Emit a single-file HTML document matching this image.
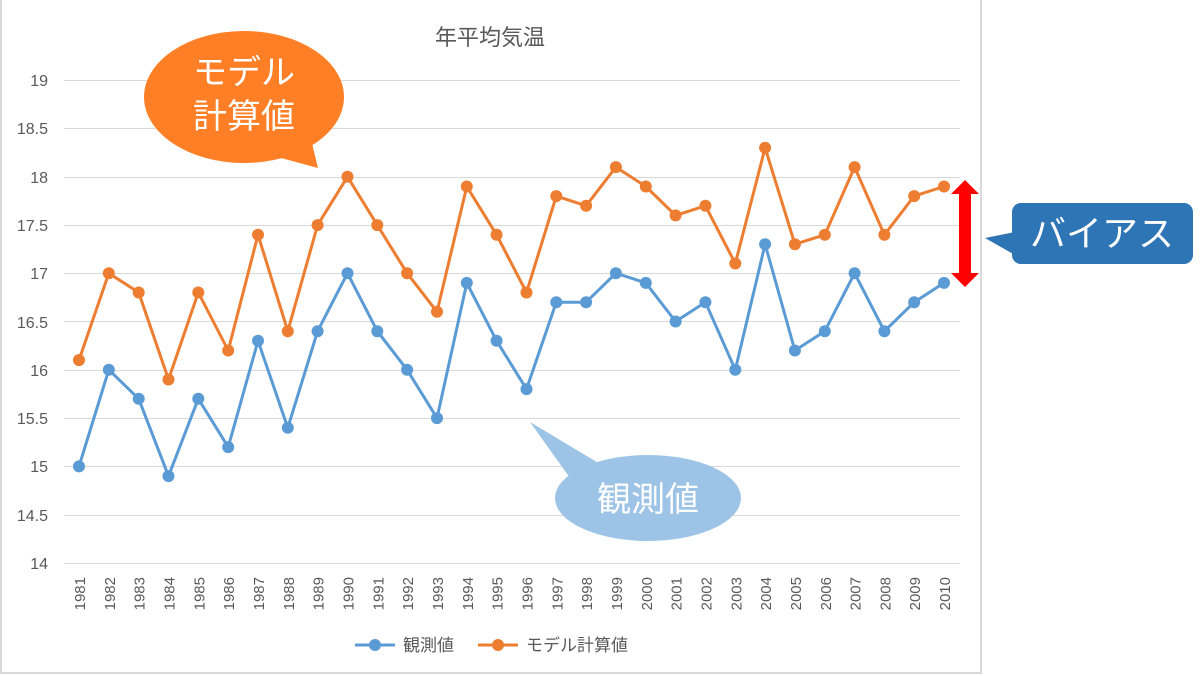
<!DOCTYPE html>
<html><head><meta charset="utf-8"><style>
body{margin:0;background:#fff;}
svg{display:block;font-family:"Liberation Sans","Noto Sans CJK JP",sans-serif;}
</style></head><body>
<svg width="1200" height="676" viewBox="0 0 1200 676">
<defs>
<marker id="mb" markerWidth="14" markerHeight="14" refX="7" refY="7" markerUnits="userSpaceOnUse"><circle cx="7" cy="7" r="6" fill="#5b9bd5"/></marker>
<marker id="mo" markerWidth="14" markerHeight="14" refX="7" refY="7" markerUnits="userSpaceOnUse"><circle cx="7" cy="7" r="6" fill="#ed7d31"/></marker>
</defs>
<rect x="1" y="-2" width="980" height="675" fill="#fff" stroke="#d9d9d9" stroke-width="2"/>
<g stroke="#d9d9d9" stroke-width="1">
<line x1="64" x2="960" y1="80.5" y2="80.5"/><line x1="64" x2="960" y1="128.5" y2="128.5"/>
<line x1="64" x2="960" y1="177.5" y2="177.5"/><line x1="64" x2="960" y1="225.5" y2="225.5"/>
<line x1="64" x2="960" y1="273.5" y2="273.5"/><line x1="64" x2="960" y1="321.5" y2="321.5"/>
<line x1="64" x2="960" y1="370.5" y2="370.5"/><line x1="64" x2="960" y1="418.5" y2="418.5"/>
<line x1="64" x2="960" y1="466.5" y2="466.5"/><line x1="64" x2="960" y1="515.5" y2="515.5"/>
<line x1="64" x2="960" y1="563.5" y2="563.5"/>
</g>
<g fill="#595959" font-size="16" text-anchor="end">
<text x="48" y="86">19</text><text x="48" y="134">18.5</text><text x="48" y="183">18</text>
<text x="48" y="231">17.5</text><text x="48" y="279">17</text><text x="48" y="328">16.5</text>
<text x="48" y="376">16</text><text x="48" y="424">15.5</text><text x="48" y="472">15</text>
<text x="48" y="521">14.5</text><text x="48" y="569">14</text>
</g>
<text x="490" y="45" font-size="22" fill="#595959" text-anchor="middle">年平均気温</text>
<g fill="#595959" font-size="15" text-anchor="end">
<text transform="translate(85,577) rotate(-90)">1981</text>
<text transform="translate(114.8,577) rotate(-90)">1982</text>
<text transform="translate(144.7,577) rotate(-90)">1983</text>
<text transform="translate(174.5,577) rotate(-90)">1984</text>
<text transform="translate(204.3,577) rotate(-90)">1985</text>
<text transform="translate(234.2,577) rotate(-90)">1986</text>
<text transform="translate(264,577) rotate(-90)">1987</text>
<text transform="translate(293.8,577) rotate(-90)">1988</text>
<text transform="translate(323.6,577) rotate(-90)">1989</text>
<text transform="translate(353.5,577) rotate(-90)">1990</text>
<text transform="translate(383.3,577) rotate(-90)">1991</text>
<text transform="translate(413.1,577) rotate(-90)">1992</text>
<text transform="translate(443,577) rotate(-90)">1993</text>
<text transform="translate(472.8,577) rotate(-90)">1994</text>
<text transform="translate(502.6,577) rotate(-90)">1995</text>
<text transform="translate(532.5,577) rotate(-90)">1996</text>
<text transform="translate(562.3,577) rotate(-90)">1997</text>
<text transform="translate(592.1,577) rotate(-90)">1998</text>
<text transform="translate(621.9,577) rotate(-90)">1999</text>
<text transform="translate(651.8,577) rotate(-90)">2000</text>
<text transform="translate(681.6,577) rotate(-90)">2001</text>
<text transform="translate(711.4,577) rotate(-90)">2002</text>
<text transform="translate(741.3,577) rotate(-90)">2003</text>
<text transform="translate(771.1,577) rotate(-90)">2004</text>
<text transform="translate(800.9,577) rotate(-90)">2005</text>
<text transform="translate(830.8,577) rotate(-90)">2006</text>
<text transform="translate(860.6,577) rotate(-90)">2007</text>
<text transform="translate(890.4,577) rotate(-90)">2008</text>
<text transform="translate(920.2,577) rotate(-90)">2009</text>
<text transform="translate(950,577) rotate(-90)">2010</text>
</g>
<polyline fill="none" stroke="#5b9bd5" stroke-width="3" stroke-linejoin="round" marker-start="url(#mb)" marker-mid="url(#mb)" marker-end="url(#mb)"
points="79,466.4 108.8,369.8 138.7,398.8 168.5,476.1 198.3,398.8 228.2,447.1 258,340.8 287.8,427.8 317.6,331.2 347.5,273.2 377.3,331.2 407.1,369.8 437,418.1 466.8,282.9 496.6,340.8 526.5,389.1 556.3,302.2 586.1,302.2 615.9,273.2 645.8,282.9 675.6,321.5 705.4,302.2 735.3,369.8 765.1,244.2 794.9,350.5 824.8,331.2 854.6,273.2 884.4,331.2 914.2,302.2 944,282.9"/>
<polyline fill="none" stroke="#ed7d31" stroke-width="3" stroke-linejoin="round" marker-start="url(#mo)" marker-mid="url(#mo)" marker-end="url(#mo)"
points="79,360.1 108.8,273.2 138.7,292.5 168.5,379.5 198.3,292.5 228.2,350.5 258,234.8 287.8,331.2 317.6,225.1 347.5,176.8 377.3,225.1 407.1,273.2 437,311.8 466.8,186.5 496.6,234.8 526.5,292.5 556.3,196.1 586.1,205.8 615.9,167.1 645.8,186.5 675.6,215.4 705.4,205.8 735.3,263.5 765.1,147.8 794.9,244.2 824.8,234.8 854.6,167.1 884.4,234.8 914.2,196.1 944,186.5"/>
<line x1="355" x2="395" y1="645" y2="645" stroke="#5b9bd5" stroke-width="3"/><circle cx="375" cy="645" r="6" fill="#5b9bd5"/>
<text x="403" y="651" font-size="17" fill="#595959">観測値</text>
<line x1="478" x2="518" y1="645" y2="645" stroke="#ed7d31" stroke-width="3"/><circle cx="498" cy="645" r="6" fill="#ed7d31"/>
<text x="526" y="651" font-size="17" fill="#595959">モデル計算値</text>
<path d="M270,155 L318,168 L310,135 Z" fill="#ff7f27"/>
<ellipse cx="244" cy="97" rx="100" ry="66" fill="#ff7f27"/>
<text x="244" y="84" font-size="34" fill="#fff" text-anchor="middle">モデル</text>
<text x="244" y="128" font-size="34" fill="#fff" text-anchor="middle">計算値</text>
<path d="M530,422 L610,470 L575,485 Z" fill="#9dc3e6"/>
<ellipse cx="648" cy="498" rx="93" ry="43" fill="#9dc3e6"/>
<text x="648" y="511" font-size="34" fill="#fff" text-anchor="middle">観測値</text>
<path d="M985,238 L1015,232 L1015,255 Z" fill="#2e75b6"/>
<rect x="1012" y="203" width="181" height="61" rx="9" fill="#2e75b6"/>
<text x="1102" y="246" font-size="36" fill="#fff" text-anchor="middle">バイアス</text>
<path d="M965,180 L979,194 L971,194 L971,273 L979,273 L965,287 L951,273 L959,273 L959,194 L951,194 Z" fill="#ff0000"/>
</svg>
</body></html>
